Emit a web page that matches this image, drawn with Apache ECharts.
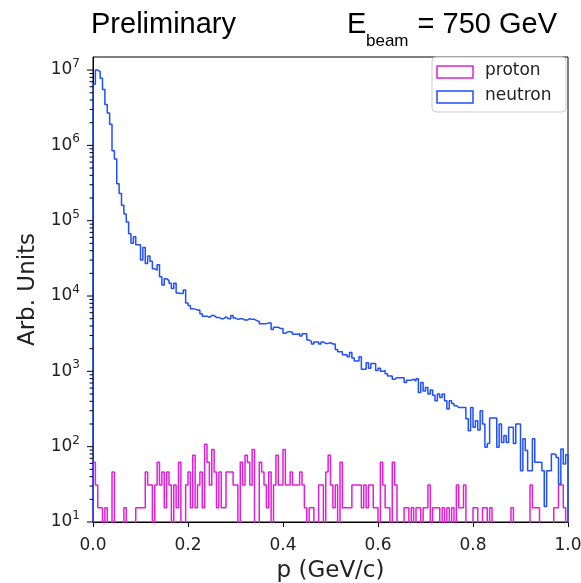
<!DOCTYPE html>
<html><head><meta charset="utf-8">
<script src="https://cdn.jsdelivr.net/npm/echarts@6/dist/echarts.min.js"></script>
<style>html,body{margin:0;padding:0;background:#fff;}#c{width:581px;height:583px;}</style>
</head><body><div id="c"></div>
<script>
// ---- data ----
const binLow = 0.0;
const binHigh = 1.0;
const binCount = 200;
const xTicks = [0, 0.2, 0.4, 0.6, 0.8, 1.0];
const yMin = 10;
const yMax = 1.49e7;
const yMajorTicks = [10, 100, 1e3, 1e4, 1e5, 1e6, 1e7];
const yMinorMultipliers = [2, 3, 4, 5, 6, 7, 8, 9];
const seriesNames = ['proton', 'neutron'];

const neutron = [
 6.5e6, 1.0e7, 9.5e6, 7.8e6, 5.5e6, 3.5e6, 2.7e6, 1.9e6, 8.5e5, 6.6e5,
 3.1e5, 2.3e5, 1.6e5, 1.23e5, 9.6e4, 6.7e4, 5.0e4, 6.1e4, 4.8e4, 4.8e4,
 3.0e4, 4.4e4, 2.7e4, 3.4e4, 2.9e4, 2.3e4, 2.2e4, 2.6e4, 1.8e4, 1.4e4,
 1.7e4, 1.6e4, 1.48e4, 1.26e4, 1.48e4, 1.1e4, 1.08e4, 1.08e4, 1.2e4, 8.1e3,
 7.5e3, 6.8e3, 6.7e3, 6.5e3, 6.5e3, 5.8e3, 5.4e3, 5.4e3, 5.2e3, 5.5e3,
 5.5e3, 5.2e3, 5.2e3, 5.0e3, 5.0e3, 5.3e3, 5.0e3, 5.0e3, 5.5e3, 5.1e3,
 4.9e3, 5.0e3, 5.0e3, 4.8e3, 4.8e3, 5.0e3, 4.9e3, 4.9e3, 4.7e3, 4.6e3,
 4.27e3, 4.27e3, 4.3e3, 4.4e3, 4.4e3, 3.6e3, 3.85e3, 3.85e3, 3.7e3, 3.7e3,
 3.2e3, 3.35e3, 3.35e3, 3.3e3, 3.1e3, 3.1e3, 3.15e3, 2.95e3, 3.15e3, 3.15e3,
 2.6e3, 2.5e3, 2.3e3, 2.45e3, 2.45e3, 2.3e3, 2.45e3, 2.35e3, 2.35e3, 2.4e3,
 2.3e3, 2.3e3, 1.95e3, 1.82e3, 1.82e3, 1.66e3, 1.66e3, 1.56e3, 1.78e3, 1.5e3,
 1.37e3, 1.37e3, 1.56e3, 1.07e3, 1.07e3, 1.3e3, 1.1e3, 1.27e3, 1.27e3, 1.03e3,
 1.1e3, 1.0e3, 1.03e3, 930, 870, 870, 785, 825, 825, 825,
 825, 710, 760, 760, 785, 745, 800, 525, 710, 550,
 610, 500, 565, 480, 407, 500, 450, 500, 407, 316,
 407, 375, 350, 332, 332, 332, 332, 235, 163, 332,
 181, 221, 166, 300, 200, 98, 110, 240, 240, 240,
 98, 200, 114, 141, 114, 181, 181, 110, 200, 200,
 48, 127, 89, 48, 48, 127, 62, 62, 62, 48,
 16, 48, 48, 80, 78, 72, 32, 93, 59, 78
];

const proton = [
 62, 31, 15.4, 15.4, 0, 15.4, 0, 0, 46, 0,
 0, 0, 0, 15.4, 0, 0, 0, 0, 15.4, 15.4,
 15.4, 15.4, 46, 31, 31, 0, 31, 62, 31, 46,
 15.4, 46, 31, 0, 31, 15.4, 62, 0, 0, 31,
 46, 15.4, 77, 15.4, 31, 46, 15.4, 108, 62, 31,
 92, 46, 15.4, 46, 15.4, 15.4, 46, 46, 46, 31,
 31, 0, 62, 31, 77, 62, 31, 92, 0, 0,
 62, 46, 31, 15.4, 46, 0, 31, 77, 31, 31,
 92, 31, 31, 46, 31, 31, 31, 46, 31, 15.4,
 0, 15.4, 15.4, 0, 0, 31, 31, 0, 46, 77,
 31, 15.4, 31, 0, 62, 15.4, 15.4, 15.4, 15.4, 31,
 31, 31, 31, 15.4, 31, 15.4, 31, 31, 15.4, 15.4,
 0, 62, 31, 15.4, 15.4, 0, 62, 31, 0, 0,
 0, 15.4, 15.4, 0, 15.4, 0, 15.4, 15.4, 0, 15.4,
 15.4, 31, 0, 15.4, 15.4, 15.4, 0, 15.4, 0, 15.4,
 0, 15.4, 0, 31, 15.4, 15.4, 31, 0, 0, 0,
 15.4, 15.4, 0, 0, 15.4, 15.4, 0, 15.4, 0, 0,
 0, 0, 0, 0, 0, 0, 15.4, 0, 0, 0,
 0, 0, 0, 0, 31, 15.4, 15.4, 15.4, 0, 0,
 0, 0, 0, 0, 15.4, 15.4, 31, 31, 15.4, 0
];

// ---- build step outlines (histtype='step') ----
const FLOOR = 1; // below axis min -> clipped to the bottom axis
function stepOutline(values) {
  const w = (binHigh - binLow) / binCount;
  const pts = [[binLow, FLOOR]];
  values.forEach((v, i) => {
    const y = v > 0 ? v : FLOOR;
    pts.push([binLow + i * w, y], [binLow + (i + 1) * w, y]);
  });
  pts.push([binHigh, FLOOR]);
  return pts;
}
const yTickData = [];
yMajorTicks.forEach(d => {
  yTickData.push([binLow, d, 6]);
  yMinorMultipliers.forEach(m => { if (d * m <= yMax) yTickData.push([binLow, d * m, 3.5]); });
});

const colProton = '#e11fd9';
const colNeutron = '#1f4fff';
const tickFont = 'DejaVu Sans';

const chart = echarts.init(document.getElementById('c'), null, {renderer: 'canvas'});
chart.setOption({
  animation: false,
  backgroundColor: '#fff',
  grid: {left: 93, right: 13, top: 57, bottom: 61, show: true, borderColor: '#000', borderWidth: 1,
         backgroundColor: 'transparent', containLabel: false, outerBoundsMode: 'none'},
  xAxis: {
    type: 'value', min: binLow, max: binHigh, interval: 0.2,
    name: 'p (GeV/c)', nameLocation: 'middle', nameGap: 38,
    nameTextStyle: {fontFamily: tickFont, fontSize: 23, color: '#222'},
    axisLine: {show: true, lineStyle: {color: '#000', width: 1}},
    axisTick: {show: true, length: 5, lineStyle: {color: '#000'}},
    axisLabel: {fontFamily: tickFont, fontSize: 17, color: '#222', margin: 15,
      formatter: v => v.toFixed(1)},
    splitLine: {show: false}
  },
  yAxis: {
    type: 'log', logBase: 10, min: yMin, max: yMax,
    name: 'Arb. Units', nameLocation: 'middle', nameGap: 52,
    nameTextStyle: {fontFamily: tickFont, fontSize: 23, color: '#222'},
    axisLine: {show: true, lineStyle: {color: '#000', width: 1}},
    axisTick: {show: false},
    axisLabel: {fontFamily: tickFont, color: '#222', margin: 13,
      formatter: v => {
        const e = Math.log10(v);
        const r = Math.round(e);
        if (Math.abs(e - r) > 1e-6) return '';
        return '{b|10}{s|' + r + '}';
      },
      rich: {
        b: {fontFamily: tickFont, fontSize: 17, lineHeight: 24, color: '#222'},
        s: {fontFamily: tickFont, fontSize: 12, lineHeight: 10, verticalAlign: 'top', color: '#222'}
      }
    },
    splitLine: {show: false}
  },
  series: [
    {name: 'proton', type: 'line', data: stepOutline(proton), showSymbol: false, symbol: 'none',
     clip: true, lineStyle: {color: colProton, width: 1.5}, itemStyle: {color: colProton}, silent: true},
    {name: 'neutron', type: 'line', data: stepOutline(neutron), showSymbol: false, symbol: 'none',
     clip: true, lineStyle: {color: colNeutron, width: 1.5}, itemStyle: {color: colNeutron}, silent: true},
    {name: 'yticks', type: 'custom', data: yTickData, clip: false, silent: true, z: 10,
     renderItem: (params, api) => {
       const p = api.coord([api.value(0), api.value(1)]);
       const len = api.value(2);
       return {type: 'line', shape: {x1: p[0] - len, y1: p[1], x2: p[0], y2: p[1]},
               style: {stroke: '#000', lineWidth: 1}};
     }}
  ],
  graphic: [
    {type: 'text', left: 91, top: 10, style: {text: 'Preliminary', font: '29px "Liberation Sans"', fill: '#000'}},
    {type: 'text', left: 347, top: 10, style: {text: 'E', font: '29px "Liberation Sans"', fill: '#000'}},
    {type: 'text', left: 366, top: 33, style: {text: 'beam', font: '17px "Liberation Sans"', fill: '#000'}},
    {type: 'text', right: 24, top: 10, style: {text: '= 750 GeV', font: '29px "Liberation Sans"', fill: '#000'}},
    // legend
    {type: 'rect', shape: {x: 432, y: 57, width: 134, height: 55, r: 4}, style: {fill: 'rgba(255,255,255,0.85)', stroke: '#cccccc', lineWidth: 1}, z: 20},
    {type: 'rect', shape: {x: 437, y: 66, width: 36, height: 12}, style: {fill: 'none', stroke: colProton, lineWidth: 1.5}, z: 21},
    {type: 'rect', shape: {x: 437, y: 91, width: 36, height: 12}, style: {fill: 'none', stroke: colNeutron, lineWidth: 1.5}, z: 21},
    {type: 'text', left: 485, top: 62, style: {text: seriesNames[0], font: '17px "DejaVu Sans"', fill: '#222'}, z: 21},
    {type: 'text', left: 485, top: 87, style: {text: seriesNames[1], font: '17px "DejaVu Sans"', fill: '#222'}, z: 21}
  ]
});
</script></body></html>
